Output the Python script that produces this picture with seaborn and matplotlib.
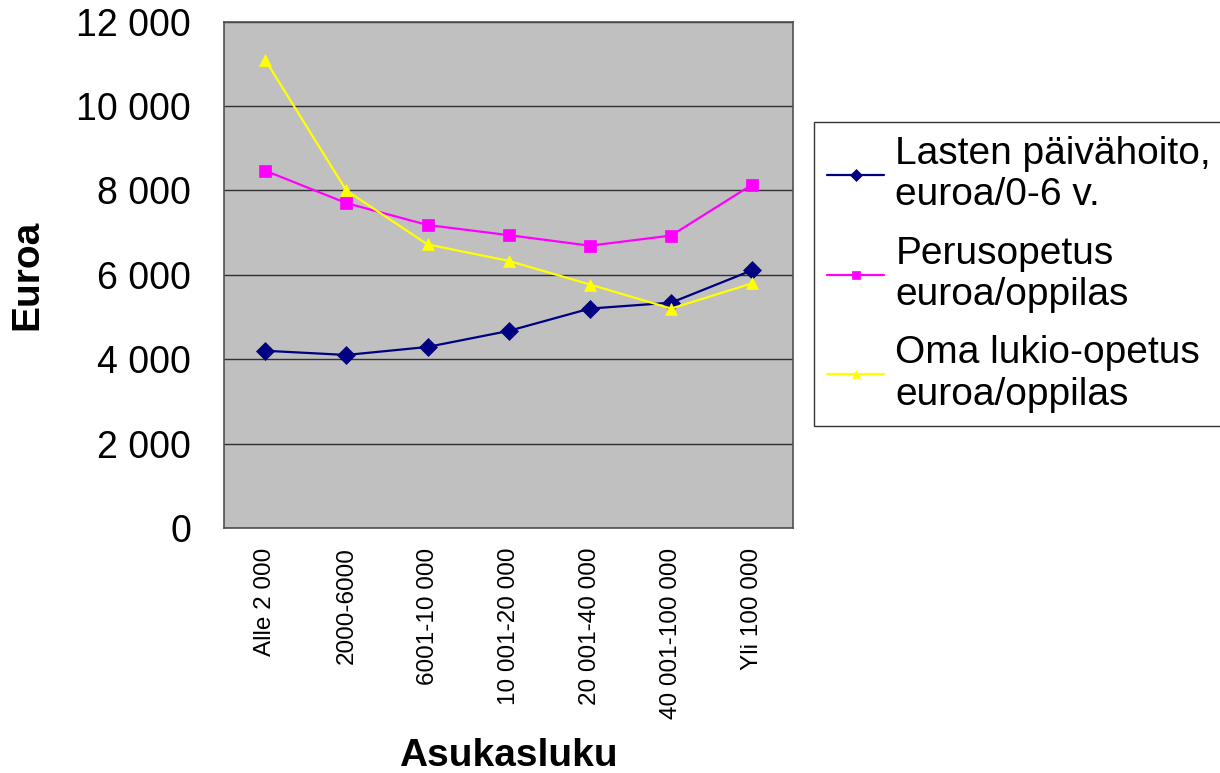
import pandas as pd
import matplotlib
matplotlib.use("Agg")
import matplotlib.pyplot as plt
import seaborn as sns

# Data
categories = ["Alle 2 000", "2000-6000", "6001-10 000", "10 001-20 000",
              "20 001-40 000", "40 001-100 000", "Yli 100 000"]
paivahoito = [4200, 4100, 4290, 4670, 5200, 5340, 6110]
perusopetus = [8470, 7700, 7180, 6940, 6690, 6930, 8140]
lukio = [11100, 8000, 6720, 6330, 5770, 5200, 5800]

series_names = ["Lasten päivähoito,\neuroa/0-6 v.",
                "Perusopetus\neuroa/oppilas",
                "Oma lukio-opetus\neuroa/oppilas"]
y_ticks = [0, 2000, 4000, 6000, 8000, 10000, 12000]
y_ticklabels = ["0", "2 000", "4 000", "6 000", "8 000", "10 000", "12 000"]

df = pd.DataFrame({
    "Asukasluku": categories * 3,
    "x": list(range(len(categories))) * 3,
    "Euroa": paivahoito + perusopetus + lukio,
    "Sarja": [series_names[0]] * 7 + [series_names[1]] * 7 + [series_names[2]] * 7,
})

palette = {series_names[0]: "#000080", series_names[1]: "#FF00FF", series_names[2]: "#FFFF00"}
markers = {series_names[0]: "D", series_names[1]: "s", series_names[2]: "^"}

sns.set_style("white")
plt.rcParams['font.family'] = ['Liberation Sans', 'DejaVu Sans']
plt.rcParams['text.color'] = 'black'
plt.rcParams['axes.labelcolor'] = 'black'
plt.rcParams['xtick.color'] = 'black'
plt.rcParams['ytick.color'] = 'black'

fig = plt.figure(figsize=(12.2, 7.73), dpi=100)
ax = fig.add_axes([0.184, 0.317, 0.466, 0.655])
ax.set_facecolor("#C0C0C0")

sns.lineplot(data=df, x="x", y="Euroa", hue="Sarja", style="Sarja",
             palette=palette, markers=markers, dashes=False,
             markersize=9, linewidth=1.6, markeredgewidth=0.5, ax=ax)
for line in ax.lines:
    line.set_markeredgecolor(line.get_color())

ax.set_xlim(-0.5, len(categories) - 0.5)
ax.set_ylim(0, 12000)
ax.set_yticks(y_ticks)
ax.set_yticklabels(y_ticklabels, fontsize=27)
ax.set_xticks(range(len(categories)))
ax.set_xticklabels(categories, rotation=90, fontsize=17.5)
ax.set_xticks([i - 0.5 for i in range(len(categories) + 1)], minor=True)
ax.tick_params(axis='x', which='major', length=0, pad=14)
ax.tick_params(axis='x', which='minor', length=6, width=1, color='#404040', direction='out')
ax.tick_params(axis='y', length=6, width=1, color='#404040', direction='out', pad=18)
ax.yaxis.grid(True, color='#303030', linewidth=1)
ax.xaxis.grid(False)
for s in ax.spines.values():
    s.set_color('#505050')
    s.set_linewidth(1.2)

ax.set_xlabel("Asukasluku", fontsize=28, fontweight='bold')
ax.set_ylabel("Euroa", fontsize=28, fontweight='bold')
ax.xaxis.set_label_coords(0.5, -0.415)
ax.yaxis.set_label_coords(-0.315, 0.5)

ax.get_legend().remove()
handles, labels = ax.get_legend_handles_labels()
leg = fig.legend(handles, labels, loc='upper left', bbox_to_anchor=(0.667, 0.842),
                 fontsize=28, frameon=True, fancybox=False, edgecolor='black',
                 handlelength=1.45, handletextpad=0.3, borderpad=0.35,
                 borderaxespad=0, labelspacing=0.57, markerscale=0.7)
leg.get_frame().set_linewidth(1)

fig.savefig("out.png", dpi=100, facecolor='white')
